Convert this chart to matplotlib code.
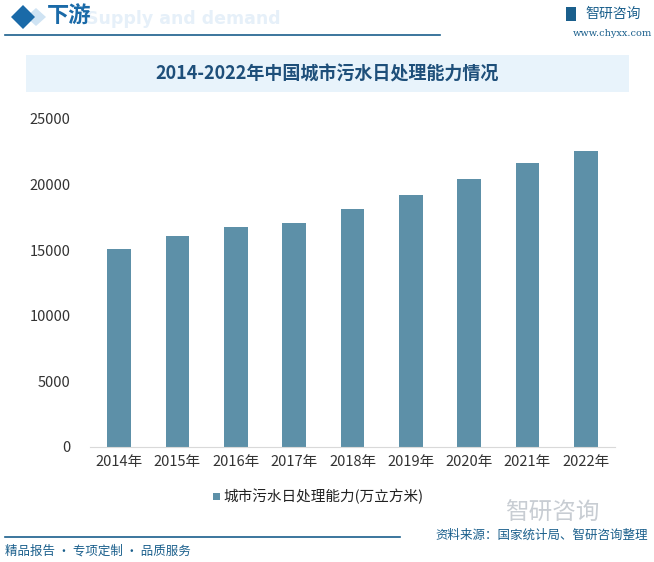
import matplotlib
matplotlib.use("Agg")
import matplotlib.pyplot as plt
from matplotlib.patches import Rectangle, Polygon

plt.rcParams['font.family'] = ['Noto Sans CJK SC', 'DejaVu Sans']

years = ['2014年', '2015年', '2016年', '2017年', '2018年', '2019年', '2020年', '2021年', '2022年']
capacity = [15124, 16065, 16779, 17037, 18145, 19171, 20405, 21683, 22598]
series_name = '城市污水日处理能力(万立方米)'
yticks = [0, 5000, 10000, 15000, 20000, 25000]

W, H = 654, 562
fig = plt.figure(figsize=(W / 100, H / 100), dpi=100)
fig.patch.set_facecolor('white')

def fx(px):
    return px / W

def fy(py):
    return 1 - py / H

# header
fig.patches.append(Polygon([[fx(26), fy(17)], [fx(36), fy(8)], [fx(46), fy(17)], [fx(36), fy(26)]],
                           closed=True, transform=fig.transFigure, facecolor='#cfe3f3', edgecolor='none'))
fig.patches.append(Polygon([[fx(11), fy(17)], [fx(23), fy(5)], [fx(35), fy(17)], [fx(23), fy(29)]],
                           closed=True, transform=fig.transFigure, facecolor='#1a6aa8', edgecolor='none'))
fig.text(fx(86), fy(19), 'Supply and demand', fontsize=12.5, fontweight='bold', color='#e6f0f9',
         va='center', ha='left', family='DejaVu Sans')
fig.text(fx(47), fy(16), '下游', fontsize=16, fontweight='bold', color='#1a6aa8', va='center', ha='left')
fig.lines.append(plt.Line2D([fx(5), fx(440)], [fy(35), fy(35)], transform=fig.transFigure,
                            color='#1a5f8c', lw=1.2))
fig.text(fx(585), fy(14), '智研咨询', fontsize=10, color='#1a5f8c', va='center', ha='left')
fig.patches.append(Rectangle((fx(566), fy(21)), 10 / W, 14 / H, transform=fig.transFigure,
                             facecolor='#1a5f8c', edgecolor='none'))
fig.text(fx(612), fy(34), 'www.chyxx.com', fontsize=7, color='#1a5f8c', va='center', ha='center',
         family='DejaVu Serif')

# title box
fig.patches.append(Rectangle((fx(26), fy(92)), (629 - 26) / W, (92 - 55) / H, transform=fig.transFigure,
                             facecolor='#e8f3fb', edgecolor='none'))
fig.text(fx(327), fy(74), '2014-2022年中国城市污水日处理能力情况', fontsize=13, fontweight='bold',
         color='#1e4f7a', va='center', ha='center')

# axes
ax = fig.add_axes([fx(90), fy(447), (615 - 90) / W, (447 - 119) / H])
ax.set_facecolor('none')
x = list(range(len(years)))
ax.bar(x, capacity, width=0.41, color='#5d90a8', label=series_name, zorder=2)
ax.set_xlim(-0.5, len(years) - 0.5)
ax.set_ylim(0, 25000)
ax.set_yticks(yticks)
ax.set_yticklabels([str(v) for v in yticks], fontsize=10.5, color='#333333')
ax.set_xticks(x)
ax.set_xticklabels(years, fontsize=10.5, color='#333333')
for s in ['top', 'right', 'left']:
    ax.spines[s].set_visible(False)
ax.spines['bottom'].set_color('#d9d9d9')
ax.tick_params(axis='both', length=0, pad=6)
ax.tick_params(axis='y', pad=14)

# legend
fig.patches.append(Rectangle((fx(213), fy(500)), 7 / W, 7 / H, transform=fig.transFigure,
                             facecolor='#5d90a8', edgecolor='none'))
fig.text(fx(223), fy(496), series_name, fontsize=10.5, color='#222222', va='center', ha='left')

# footer
fig.lines.append(plt.Line2D([fx(5), fx(400)], [fy(537), fy(537)], transform=fig.transFigure,
                            color='#1a5f8c', lw=1.2))
fig.text(fx(5), fy(551), '精品报告 · 专项定制 · 品质服务', fontsize=9, color='#1a5f8c', va='center', ha='left')
fig.text(fx(648), fy(535), '资料来源：国家统计局、智研咨询整理', fontsize=9, color='#1a5f8c', va='center', ha='right')
fig.text(fx(505), fy(513), '智研咨询', fontsize=17, color='#c8cdd3', va='center', ha='left')

fig.savefig('out.png', dpi=100)
